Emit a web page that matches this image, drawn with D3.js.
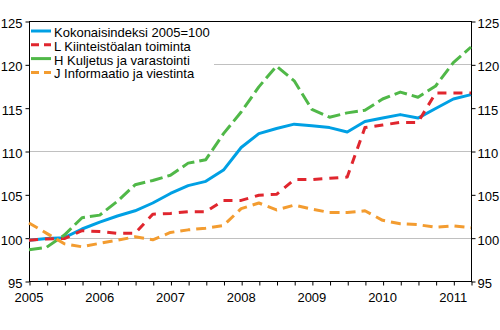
<!DOCTYPE html>
<html>
<head>
<meta charset="utf-8">
<script src="https://cdn.jsdelivr.net/npm/d3@7"></script>
<style>
	body { margin: 0; background: #fff; }
	svg { display: block; font-family: 'Liberation Sans', Arial, sans-serif; }
</style>
</head>
<body>
<svg id="chart" width="500" height="330"></svg>
<script>
// quarterly periods, 2005Q1 .. 2011Q2
const quarters = [
	'2005Q1', '2005Q2', '2005Q3', '2005Q4',
	'2006Q1', '2006Q2', '2006Q3', '2006Q4',
	'2007Q1', '2007Q2', '2007Q3', '2007Q4',
	'2008Q1', '2008Q2', '2008Q3', '2008Q4',
	'2009Q1', '2009Q2', '2009Q3', '2009Q4',
	'2010Q1', '2010Q2', '2010Q3', '2010Q4',
	'2011Q1', '2011Q2',
]

const yearLabels = ['2005', '2006', '2007', '2008', '2009', '2010', '2011']
const yTicks = [95, 100, 105, 110, 115, 120, 125]
const gridValues = [100, 110, 120]

const seriesNames = [
	'Kokonaisindeksi 2005=100',
	'L Kiinteistöalan toiminta',
	'H Kuljetus ja varastointi',
	'J Informaatio ja viestinta',
]

const totalIndex = [
	99.7, 99.9, 100.0, 101.0, 101.8, 102.5, 103.1, 104.0,
	105.1, 106.0, 106.5, 107.8, 110.4, 112.0, 112.6, 113.1,
	112.9, 112.7, 112.2, 113.4, 113.8, 114.2, 113.8, 114.9,
	116.0, 116.5,
]

const realEstate = [
	99.7, 99.85, 99.9, 100.8, 100.7, 100.5, 100.5, 102.7,
	102.8, 103.0, 103.0, 104.3, 104.3, 104.9, 105.0, 106.7,
	106.7, 106.85, 107.0, 112.7, 113.0, 113.3, 113.3, 116.7,
	116.7, 116.7,
]

const transport = [
	98.6, 98.9, 100.3, 102.3, 102.6, 104.2, 106.1, 106.6,
	107.2, 108.6, 109.0, 112.0, 114.5, 117.4, 119.8, 118.1,
	114.8, 113.9, 114.4, 114.7, 116.0, 116.8, 116.2, 117.5,
	120.2, 122.0,
]

const information = [
	101.7, 100.5, 99.3, 98.95, 99.35, 99.7, 100.1, 99.75,
	100.6, 100.9, 101.1, 101.4, 103.35, 104.0, 103.2, 103.75,
	103.3, 102.9, 102.9, 103.1, 102.0, 101.6, 101.5, 101.2,
	101.35, 101.15,
]

const seriesColors = ['#00a0e4', '#e0262e', '#50b848', '#f39c30']
const seriesDash = [null, '9,7', '13,5', '10,6']
const legendDash = [null, '8,5', null, '8,5']

function quarterValue(q) {
	return +q.slice(0, 4) + (+q.slice(5) - 1) / 4
}

const svg = d3.select('#chart')
const plotLeft = 29
const plotRight = 471
const plotTop = 21
const plotBottom = 281

const x = d3
	.scaleLinear()
	.domain([quarterValue(quarters[0]), quarterValue(quarters[quarters.length - 1])])
	.range([plotLeft, plotRight])
const y = d3.scaleLinear().domain([95, 125]).range([plotBottom, plotTop])

//Gridlines
svg
	.append('g')
	.selectAll('line')
	.data(gridValues)
	.enter()
	.append('line')
	.attr('x1', plotLeft)
	.attr('x2', plotRight)
	.attr('y1', d => Math.round(y(d)) + 0.5)
	.attr('y2', d => Math.round(y(d)) + 0.5)
	.attr('stroke', '#c0c0c0')
	.attr('stroke-width', 1)

//Legend background hides the top gridline
svg
	.append('rect')
	.attr('x', plotLeft + 1)
	.attr('y', plotTop + 1)
	.attr('width', 184)
	.attr('height', 58)
	.attr('fill', '#fff')

//Frame
svg
	.append('rect')
	.attr('x', plotLeft + 0.5)
	.attr('y', plotTop + 0.5)
	.attr('width', plotRight - plotLeft)
	.attr('height', plotBottom - plotTop)
	.attr('fill', 'none')
	.attr('stroke', '#000')

function styleAxis(g) {
	g.select('.domain').remove()
	g.selectAll('.tick line').attr('stroke', '#000')
	g.selectAll('.tick text')
		.attr('fill', '#000')
		.style('font-size', '13px')
		.style('font-family', "'Liberation Sans', Arial, sans-serif")
}

//Left and right axes
const yLeft = svg
	.append('g')
	.attr('transform', 'translate(' + (plotLeft + 0.5) + ',0.5)')
	.call(d3.axisLeft(y).tickValues(yTicks).tickSize(4).tickPadding(3).tickFormat(d3.format('d')))
styleAxis(yLeft)
yLeft.selectAll('.tick text').attr('dy', '0.45em')

const yRight = svg
	.append('g')
	.attr('transform', 'translate(' + (plotRight + 0.5) + ',0.5)')
	.call(d3.axisRight(y).tickValues(yTicks).tickSize(4).tickPadding(2).tickFormat(d3.format('d')))
styleAxis(yRight)
yRight.selectAll('.tick text').attr('dy', '0.45em')

//Bottom axis with quarterly ticks
const xAxis = svg
	.append('g')
	.attr('transform', 'translate(0.5,' + (plotBottom + 0.5) + ')')
	.call(
		d3
			.axisBottom(x)
			.tickValues(quarters.map(quarterValue))
			.tickSize(4)
			.tickFormat(() => '')
	)
styleAxis(xAxis)

svg
	.append('g')
	.selectAll('text')
	.data(yearLabels)
	.enter()
	.append('text')
	.attr('x', d => x(+d))
	.attr('y', 301.5)
	.attr('text-anchor', 'middle')
	.attr('fill', '#000')
	.style('font-size', '13px')
	.text(d => d)

//Series lines
const allSeries = [totalIndex, realEstate, transport, information]

const line = d3
	.line()
	.x((d, i) => x(quarterValue(quarters[i])))
	.y(d => y(d))

svg
	.append('g')
	.selectAll('path')
	.data(allSeries)
	.enter()
	.append('path')
	.attr('d', d => line(d))
	.attr('fill', 'none')
	.attr('stroke', (d, i) => seriesColors[i])
	.attr('stroke-width', 3)
	.attr('stroke-dasharray', (d, i) => seriesDash[i])
	.attr('stroke-linejoin', 'round')

//Legend
const legend = svg.append('g').attr('transform', 'translate(31,31)')

const rows = legend
	.selectAll('g')
	.data(seriesNames)
	.enter()
	.append('g')
	.attr('transform', (d, i) => 'translate(0,' + i * 13.8 + ')')

rows
	.append('line')
	.attr('x1', 0)
	.attr('x2', 20)
	.attr('stroke', (d, i) => seriesColors[i])
	.attr('stroke-width', 3)
	.attr('stroke-dasharray', (d, i) => legendDash[i])

rows
	.append('text')
	.attr('x', 23)
	.attr('y', 6)
	.attr('fill', '#000')
	.style('font-size', '13px')
	.text(d => d)
</script>
</body>
</html>
